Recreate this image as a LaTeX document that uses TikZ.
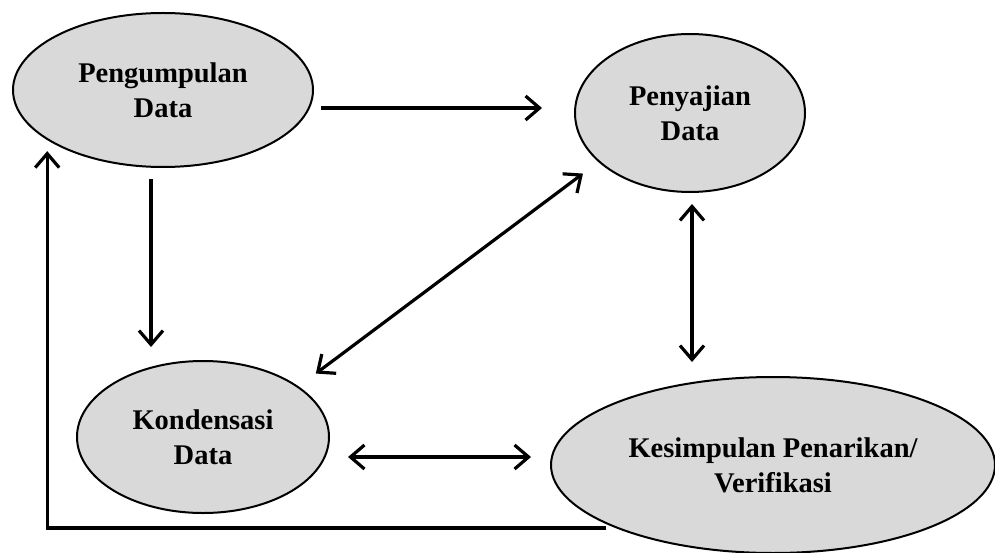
\documentclass[tikz,border=0pt]{standalone}
\usepackage{fontspec}
\setmainfont{Liberation Serif}
\usetikzlibrary{shapes.geometric,arrows.meta}
\definecolor{ovalgray}{HTML}{D9D9D9}
\begin{document}
\begin{tikzpicture}[x=1pt,y=-1pt,
	oval/.style={ellipse,draw,line width=2pt,fill=ovalgray,inner sep=0pt,align=center,
		font=\fontsize{28.5}{35}\selectfont\bfseries},
	arr/.style={line width=3.2pt,-{Straight Barb[length=14pt,width=24pt]}},
	darr/.style={line width=3.2pt,{Straight Barb[length=14pt,width=24pt]}-{Straight Barb[length=14pt,width=24pt]}}]
		\useasboundingbox (0,0) rectangle (995,553);
		\node[oval,minimum width=300pt,minimum height=154pt] (kumpul) at (163,90) {Pengumpulan\\Data};
		\node[oval,minimum width=230pt,minimum height=158pt] (saji) at (690,113) {Penyajian\\Data};
		\node[oval,minimum width=252pt,minimum height=152pt] (kondensasi) at (203,437) {Kondensasi\\Data};
		\node[oval,minimum width=444pt,minimum height=176pt] (simpul) at (773,465) {Kesimpulan Penarikan/\\Verifikasi};
		
		\draw[arr] ([xshift=7pt,yshift=-18pt]kumpul.east) -- ([xshift=-32pt,yshift=5pt]saji.west);
		\draw[arr] ([xshift=-12pt,yshift=-11pt]kumpul.south) -- ([xshift=-52pt,yshift=13pt]kondensasi.north);
		\draw[darr] ([xshift=23pt,yshift=9pt]kondensasi.north east) -- ([xshift=-25pt,yshift=-4pt]saji.south west);
		\draw[darr] ([xshift=2pt,yshift=-11pt]saji.south) -- ([xshift=-81pt,yshift=14pt]simpul.north);
		\draw[darr] ([xshift=18pt,yshift=-20pt]kondensasi.east) -- ([xshift=-19pt,yshift=8pt]simpul.west);
		\draw[arr] ([xshift=-9pt]simpul.south west) -| ([xshift=-9pt,yshift=-6pt]kumpul.south west);
\end{tikzpicture}
\end{document}
